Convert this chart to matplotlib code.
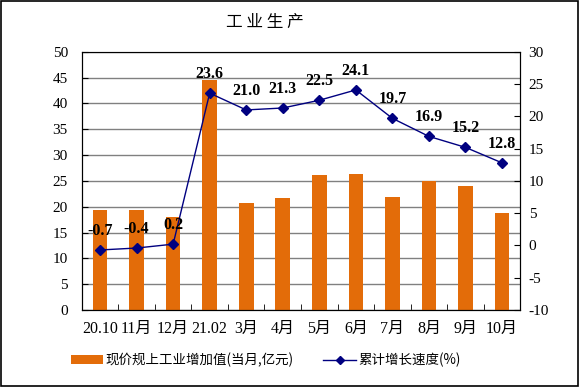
import matplotlib
matplotlib.use("Agg")
import matplotlib.pyplot as plt
from matplotlib.lines import Line2D
from matplotlib.patches import Patch, Rectangle

categories = ["20.10", "11月", "12月", "21.02", "3月", "4月", "5月", "6月", "7月", "8月", "9月", "10月"]
bar_values = [19.4, 19.4, 18.1, 44.6, 20.7, 21.7, 26.2, 26.4, 21.9, 25.0, 24.0, 18.8]
growth = [-0.7, -0.4, 0.2, 23.6, 21.0, 21.3, 22.5, 24.1, 19.7, 16.9, 15.2, 12.8]
bar_label = "现价规上工业增加值(当月,亿元)"
line_label = "累计增长速度(%)"
title = "工 业 生 产"

FAM = ["Liberation Serif", "Noto Sans CJK SC"]
plt.rcParams["font.family"] = FAM
plt.rcParams["axes.unicode_minus"] = False

fig = plt.figure(figsize=(5.8, 3.87), dpi=100)
fig.patches.append(Rectangle((0.002, 0.003), 0.995, 0.994, transform=fig.transFigure,
                             fill=False, edgecolor="black", linewidth=1.2))
ax = fig.add_axes([0.141, 0.199, 0.756, 0.667])
x = list(range(len(categories)))
ax.bar(x, bar_values, width=0.4, color="#E36C09", zorder=2)
ax.set_ylim(0, 50)
ax.set_yticks(range(0, 51, 5))
ax.set_xlim(-0.5, len(categories) - 0.5)
ax.set_xticks(x)
ax.set_xticklabels(categories, fontsize=11.5)
ax.set_xticks([i - 0.5 for i in range(len(categories) + 1)], minor=True)
ax.tick_params(axis="x", which="major", length=0, pad=8)
ax.tick_params(axis="x", which="minor", length=4, direction="in")
ax.tick_params(axis="y", direction="in", length=4, labelsize=11, pad=10)
ax.grid(axis="y", color="#808080", linewidth=1, zorder=0)
ax.set_axisbelow(True)
ax.spines["top"].set_color("#808080")

ax2 = ax.twinx()
ax2.plot(x, growth, color="#000080", marker="D", markersize=5, linewidth=1, zorder=3)
ax2.set_ylim(-10, 30)
ax2.set_yticks(range(-10, 31, 5))
ax2.tick_params(axis="y", direction="in", length=4, labelsize=11, pad=6)
for xi, v in zip(x, growth):
    ax2.annotate(f"{v:.1f}", (xi, v), xytext=(0, 8), textcoords="offset points",
                 ha="center", va="bottom", fontsize=11.5, fontweight="bold", family="Liberation Serif")

fig.text(0.457, 0.943, title, ha="center", va="center", fontsize=12, family="Noto Sans CJK SC")

handles = [Patch(facecolor="#E36C09", edgecolor="none"),
           Line2D([0], [0], color="#000080", marker="D", markersize=4, linewidth=1)]
fig.legend(handles, [bar_label, line_label], loc="center", bbox_to_anchor=(0.458, 0.07),
           ncol=2, frameon=False, handlelength=2.4, handletextpad=0.2, columnspacing=2.2,
           handleheight=0.6, prop={"family": ["Noto Sans CJK SC"], "size": 9.7})

fig.savefig("out.png", dpi=100)
